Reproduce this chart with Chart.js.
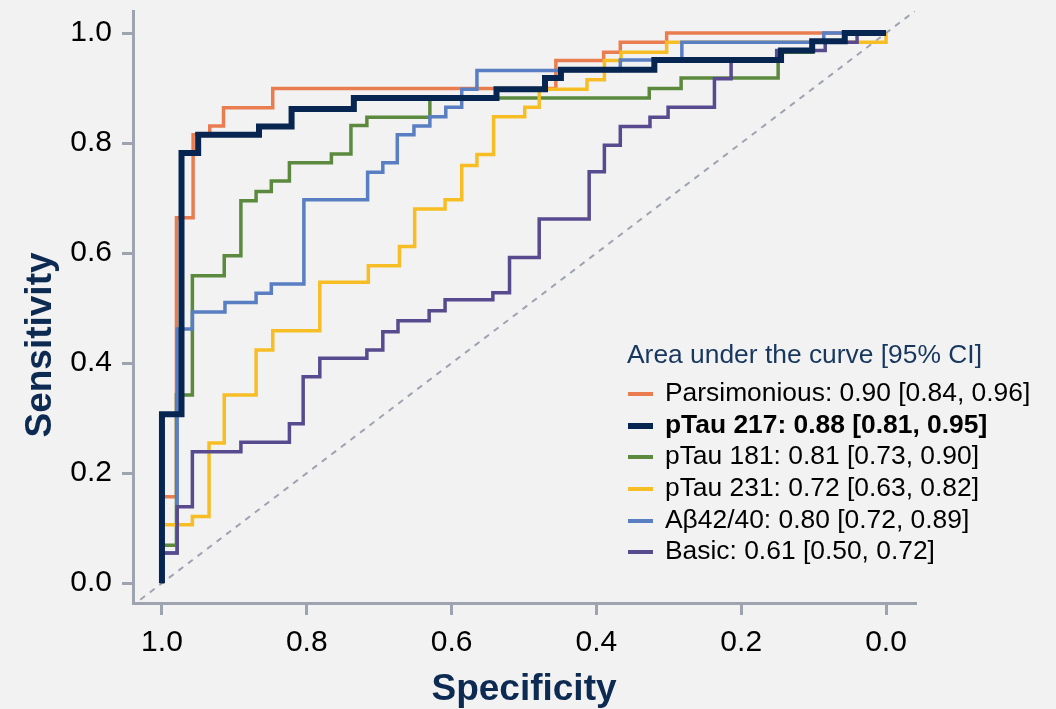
<!DOCTYPE html>
<html lang="en">
<head>
  <meta charset="UTF-8" />
  <title>ROC curves</title>
  <script src="https://cdn.jsdelivr.net/npm/chart.js"></script>
  <style>
    body {
      margin: 0;
      background: #f2f2f2;
      font-family: 'Liberation Sans', Arial, sans-serif;
    }
    .wrap {
      position: relative;
      width: 1056px;
      height: 709px;
    }
    #ylabel {
      position: absolute;
      left: -111px;
      top: 323px;
      width: 300px;
      height: 44px;
      line-height: 44px;
      text-align: center;
      font-size: 37px;
      font-weight: bold;
      color: #0d2a52;
      transform: rotate(-90deg);
    }
    #legend {
      position: absolute;
      left: 627px;
      top: 338px;
      color: #000;
      font-size: 26.4px;
    }
    #legend .title {
      color: #17375e;
      line-height: 32px;
      margin-bottom: 7px;
    }
    #legend .row {
      height: 31.7px;
      line-height: 31.7px;
      white-space: nowrap;
    }
    #legend .mark {
      display: inline-block;
      width: 25px;
      vertical-align: middle;
      margin: 0 12px 0 1px;
    }
  </style>
</head>
<body>
  <div class="wrap">
    <canvas id="roc"></canvas>
    <div id="ylabel">Sensitivity</div>
    <div id="legend"></div>
  </div>

  <script>
    // ROC step points: (specificity, sensitivity) at the end of each horizontal run
    const xTicks = [0, 0.2, 0.4, 0.6, 0.8, 1.0];
    const yTicks = [0, 0.2, 0.4, 0.6, 0.8, 1.0];

    const names = ['Parsimonious', 'pTau 217', 'pTau 181', 'pTau 231', 'A\u03b242/40', 'Basic'];
    const aucLabels = ['0.90 [0.84, 0.96]', '0.88 [0.81, 0.95]', '0.81 [0.73, 0.90]',
                       '0.72 [0.63, 0.82]', '0.80 [0.72, 0.89]', '0.61 [0.50, 0.72]'];
    const colors = ['#ea7d50', '#062550', '#5b8a3e', '#f6bd25', '#5a7ec2', '#574a8e'];

    const parsSpec = [1, 0.980, 0.957, 0.934, 0.915, 0.847, 0.456, 0.390, 0.367, 0.303, 0];
    const parsSens = [0, 0.157, 0.664, 0.815, 0.831, 0.864, 0.899, 0.950, 0.965, 0.983, 1];

    const p217Spec = [1, 0.973, 0.950, 0.866, 0.821, 0.735, 0.538, 0.471, 0.449, 0.320, 0.145, 0.102, 0.057, 0];
    const p217Sens = [0, 0.307, 0.782, 0.815, 0.830, 0.862, 0.882, 0.898, 0.918, 0.933, 0.951, 0.968, 0.985, 1];

    const p181Spec = [1, 0.980, 0.958, 0.914, 0.891, 0.870, 0.849, 0.824, 0.766, 0.739, 0.717, 0.630, 0.327, 0.283, 0.149, 0.102, 0.057, 0];
    const p181Sens = [0, 0.069, 0.342, 0.559, 0.595, 0.695, 0.712, 0.731, 0.764, 0.780, 0.832, 0.847, 0.882, 0.899, 0.918, 0.965, 0.985, 1];

    const p231Spec = [1, 0.958, 0.935, 0.914, 0.870, 0.847, 0.782, 0.715, 0.672, 0.651, 0.609, 0.586, 0.565, 0.542, 0.499, 0.479, 0.413, 0.389, 0.366, 0.303, 0, 0];
    const p231Sens = [0, 0.106, 0.121, 0.255, 0.342, 0.424, 0.459, 0.547, 0.577, 0.612, 0.680, 0.697, 0.759, 0.779, 0.848, 0.865, 0.898, 0.915, 0.950, 0.965, 0.983, 1];

    const abSpec = [1, 0.979, 0.958, 0.913, 0.870, 0.849, 0.804, 0.716, 0.695, 0.675, 0.652, 0.630, 0.608, 0.586, 0.565, 0.367, 0.282, 0.086, 0];
    const abSens = [0, 0.055, 0.462, 0.493, 0.510, 0.527, 0.544, 0.697, 0.747, 0.764, 0.815, 0.831, 0.848, 0.865, 0.898, 0.932, 0.951, 0.983, 1];

    const basicSpec = [1, 0.979, 0.958, 0.891, 0.824, 0.805, 0.782, 0.717, 0.695, 0.674, 0.631, 0.609, 0.543, 0.520, 0.479, 0.410, 0.389, 0.367, 0.326, 0.301, 0.237, 0.214, 0.151, 0.084, 0.040, 0];
    const basicSens = [0, 0.055, 0.139, 0.239, 0.256, 0.290, 0.375, 0.409, 0.424, 0.457, 0.477, 0.495, 0.515, 0.528, 0.592, 0.662, 0.748, 0.796, 0.830, 0.847, 0.865, 0.917, 0.951, 0.968, 0.983, 1];

    const chanceSpec = [1.03, -0.04];
    const chanceSens = [-0.03, 1.04];

    const specs = [parsSpec, p217Spec, p181Spec, p231Spec, abSpec, basicSpec];
    const senss = [parsSens, p217Sens, p181Sens, p231Sens, abSens, basicSens];
    const drawOrder = [5, 0, 4, 3, 2, 1];   // lower = drawn on top

    const axisColor = '#9ea4af';
    const toPoints = (xs, ys) => xs.map((x, i) => ({ x: x, y: ys[i] }));

    const datasets = names.map((n, i) => ({
      label: n,
      data: toPoints(specs[i], senss[i]),
      borderColor: colors[i],
      borderWidth: i === 1 ? 6 : 3.5,
      stepped: 'after',
      pointRadius: 0,
      borderJoinStyle: 'miter',
      fill: false,
      order: drawOrder[i]
    }));
    datasets.push({
      label: 'chance',
      data: toPoints(chanceSpec, chanceSens),
      borderColor: axisColor,
      borderWidth: 2,
      borderDash: [6, 6],
      pointRadius: 0,
      order: 10
    });

    // html legend so one row can be bold
    const legend = document.getElementById('legend');
    let html = '<div class="title">Area under the curve [95% CI]</div>';
    names.forEach((n, i) => {
      const h = i === 1 ? 6 : 4;
      html += '<div class="row"' + (i === 1 ? ' style="font-weight:bold"' : '') + '>' +
        '<span class="mark" style="height:' + h + 'px;background:' + colors[i] + '"></span>' +
        n + ': ' + aucLabels[i] + '</div>';
    });
    legend.innerHTML = html;

    const tickFont = { family: "'Liberation Sans', Arial, sans-serif", size: 30 };

    new Chart(document.getElementById('roc'), {
      type: 'line',
      data: { datasets: datasets },
      options: {
        responsive: true,
        maintainAspectRatio: false,
        animation: false,
        layout: { padding: { top: 11, right: 141, left: 0, bottom: 0 } },
        plugins: { legend: { display: false }, tooltip: { enabled: false } },
        scales: {
          x: {
            type: 'linear',
            reverse: true,
            min: -0.04,
            max: 1.04,
            afterBuildTicks: s => { s.ticks = xTicks.map(v => ({ value: v })); },
            afterFit: s => { s.height = 106; s.paddingLeft = 0; s.paddingRight = 0; },
            ticks: {
              callback: v => v.toFixed(1),
              font: tickFont,
              color: '#000',
              padding: 10,
              maxRotation: 0,
              autoSkip: false
            },
            grid: { drawOnChartArea: false, color: axisColor, lineWidth: 3, tickLength: 12 },
            border: { color: axisColor, width: 3 },
            title: {
              display: true,
              text: 'Specificity',
              color: '#0d2a52',
              font: { family: "'Liberation Sans', Arial, sans-serif", size: 37, weight: 'bold', lineHeight: 1 },
              padding: { top: 0, bottom: 1 }
            }
          },
          y: {
            type: 'linear',
            min: -0.036,
            max: 1.04,
            afterBuildTicks: s => { s.ticks = yTicks.map(v => ({ value: v })); },
            afterFit: s => { s.width = 133; s.paddingTop = 0; s.paddingBottom = 0; },
            ticks: {
              callback: v => v.toFixed(1),
              font: tickFont,
              color: '#000',
              padding: 10,
              autoSkip: false
            },
            grid: { drawOnChartArea: false, color: axisColor, lineWidth: 3, tickLength: 11 },
            border: { color: axisColor, width: 3 }
          }
        }
      }
    });
  </script>
</body>
</html>
